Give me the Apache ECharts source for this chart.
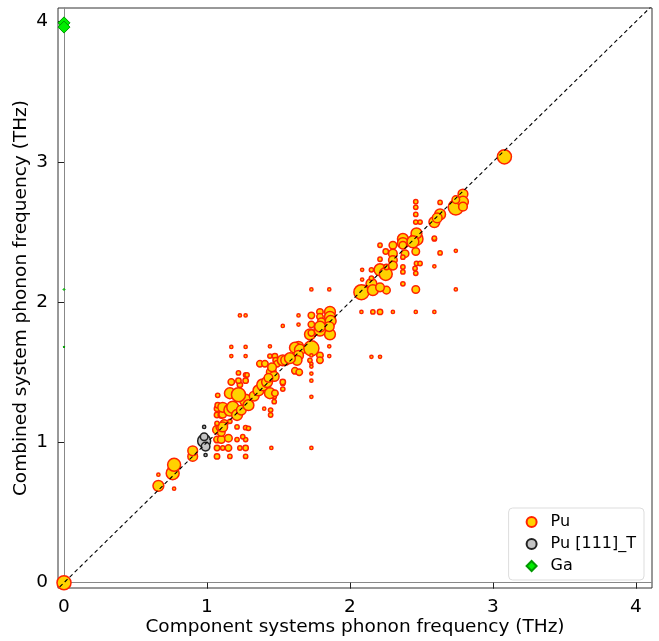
<!DOCTYPE html>
<html>
<head>
<meta charset="utf-8">
<script src="https://cdn.jsdelivr.net/npm/echarts@6/dist/echarts.min.js"></script>
<style>
  html, body { margin: 0; padding: 0; background: #fff; }
  #chart { width: 659px; height: 641px; }
</style>
</head>
<body>
<div id="chart"></div>
<script>
// tick values shared by both axes
var ticks = [0, 1, 2, 3, 4];
// dashed y = x reference
var diagLine = [-0.1, 4.3];

// Pu points: [component freq, combined freq, weight]
var puData = [
  [0, 0, 13],
  [0.66, 0.69, 10], [0.66, 0.77, 3], [0.77, 0.67, 3], [0.76, 0.78, 12], [0.77, 0.84, 12], [0.9, 0.9, 9], [0.9, 0.94, 9],
  [1.07, 0.96, 5], [1.07, 0.90, 5], [1.11, 0.96, 4], [1.15, 0.96, 6], [1.23, 0.96, 4], [1.27, 0.96, 5], [1.45, 0.96, 3], [1.73, 0.96, 3],
  [1.16, 0.90, 4], [1.27, 0.90, 4],
  [1.07, 1.02, 6], [1.10, 1.02, 7], [1.15, 1.03, 7], [1.21, 1.02, 4], [1.27, 1.02, 4], [1.25, 1.04, 4],
  [1.07, 1.09, 8], [1.10, 1.07, 7], [1.09, 1.11, 7], [1.12, 1.135, 7], [1.11, 1.11, 9], [1.21, 1.11, 4], [1.27, 1.105, 4], [1.29, 1.10, 4], [1.16, 1.15, 4], [1.07, 1.135, 4],
  [1.07, 1.195, 5], [1.10, 1.195, 6], [1.11, 1.2, 7], [1.07, 1.24, 5], [1.075, 1.265, 5], [1.075, 1.335, 4],
  [1.11, 1.25, 9], [1.16, 1.23, 11], [1.18, 1.25, 11], [1.21, 1.195, 10], [1.24, 1.23, 9], [1.27, 1.30, 11], [1.29, 1.265, 10], [1.16, 1.35, 10], [1.22, 1.34, 13],
  [1.17, 1.43, 6], [1.23, 1.41, 5], [1.22, 1.44, 5], [1.22, 1.495, 4], [1.27, 1.48, 4], [1.28, 1.48, 4], [1.27, 1.44, 5],
  [1.17, 1.68, 3], [1.27, 1.68, 3], [1.17, 1.615, 3], [1.27, 1.615, 3], [1.23, 1.905, 3], [1.27, 1.905, 3],
  [1.44, 1.685, 3], [1.44, 1.615, 4], [1.475, 1.615, 5], [1.48, 1.585, 5], [1.49, 1.56, 6], [1.53, 1.585, 10], [1.37, 1.56, 6], [1.405, 1.56, 6],
  [1.40, 1.24, 3], [1.445, 1.23, 4], [1.445, 1.195, 4], [1.47, 1.325, 4], [1.47, 1.29, 4],
  [1.33, 1.33, 9], [1.36, 1.37, 10], [1.39, 1.41, 11], [1.42, 1.43, 10], [1.44, 1.35, 10], [1.475, 1.35, 6], [1.45, 1.50, 9], [1.47, 1.47, 9], [1.43, 1.46, 8], [1.455, 1.535, 8],
  [1.53, 1.42, 4], [1.53, 1.38, 4], [1.53, 1.43, 5], [1.53, 1.83, 3],
  [1.64, 1.685, 9], [1.615, 1.675, 10], [1.65, 1.66, 10], [1.64, 1.62, 9], [1.63, 1.585, 9], [1.615, 1.51, 6], [1.645, 1.50, 6], [1.55, 1.585, 9], [1.58, 1.6, 10],
  [1.73, 1.67, 14], [1.73, 1.62, 3], [1.73, 1.56, 3], [1.72, 1.585, 4], [1.73, 1.54, 3], [1.73, 1.49, 3], [1.73, 1.44, 3], [1.73, 1.325, 3],
  [1.79, 1.62, 6], [1.79, 1.585, 6], [1.72, 1.77, 10], [1.79, 1.80, 11], [1.86, 1.77, 10], [1.855, 1.685, 3], [1.855, 1.615, 3],
  [1.86, 1.93, 10], [1.86, 1.895, 10], [1.865, 1.865, 10], [1.855, 1.825, 9], [1.79, 1.93, 6], [1.79, 1.895, 6], [1.80, 1.86, 7], [1.79, 1.825, 10], [1.73, 1.905, 6], [1.73, 1.84, 6], [1.73, 1.78, 6],
  [1.64, 1.905, 3], [1.64, 1.84, 3], [1.73, 2.09, 3], [1.855, 2.09, 3],
  [2.08, 2.07, 14], [2.15, 2.13, 10], [2.16, 2.085, 10], [2.21, 2.23, 11], [2.25, 2.20, 12], [2.255, 2.085, 7], [2.21, 2.105, 8],
  [2.085, 2.16, 3], [2.085, 2.23, 3], [2.15, 2.17, 4], [2.15, 2.23, 4], [2.21, 2.305, 4], [2.21, 2.405, 4], [2.255, 2.25, 5], [2.25, 2.36, 5],
  [2.30, 2.405, 7], [2.30, 2.345, 8], [2.30, 2.30, 8], [2.30, 2.26, 8], [2.37, 2.45, 10], [2.37, 2.42, 10], [2.465, 2.45, 12], [2.465, 2.49, 10], [2.44, 2.43, 11],
  [2.37, 2.405, 7], [2.385, 2.345, 7], [2.37, 2.32, 4], [2.37, 2.25, 4], [2.37, 2.215, 4], [2.37, 2.13, 4], [2.46, 2.36, 7], [2.465, 2.275, 4], [2.49, 2.275, 4], [2.455, 2.24, 4], [2.46, 2.205, 4], [2.46, 2.09, 7],
  [2.46, 2.715, 4], [2.46, 2.675, 4], [2.46, 2.625, 4], [2.46, 2.57, 4], [2.49, 2.57, 4], [2.59, 2.45, 4], [2.63, 2.35, 4], [2.74, 2.365, 3], [2.59, 2.255, 3], [2.74, 2.09, 3],
  [2.08, 1.93, 3], [2.16, 1.93, 4], [2.21, 1.93, 5], [2.30, 1.93, 3], [2.46, 1.93, 3], [2.59, 1.93, 3], [2.15, 1.61, 3], [2.21, 1.61, 3],
  [2.59, 2.57, 10], [2.63, 2.625, 10], [2.61, 2.6, 9], [2.63, 2.71, 4], [2.59, 2.455, 4], [2.74, 2.675, 14], [2.79, 2.77, 9], [2.79, 2.715, 10], [2.79, 2.68, 8], [2.74, 2.73, 7],
  [3.08, 3.035, 13]
];

// Pu [111]_T points
var puTData = [
  [0.98, 1.01, 12], [0.99, 0.97, 8], [0.98, 1.04, 7], [0.98, 1.11, 3], [0.99, 0.91, 3]
];

// Ga points
var gaData = [
  [0, 3.99, 12], [0, 3.96, 12], [0, 2.09, 2], [0, 1.68, 2]
];

var chart = echarts.init(document.getElementById('chart'));

var axisCommon = {
  type: 'value',
  splitLine: { show: false },
  axisLine: { show: true, lineStyle: { color: '#888', width: 1 } },
  axisTick: { show: true, customValues: ticks, length: 6, lineStyle: { color: '#222' } },
  axisLabel: { customValues: ticks, color: '#000', fontSize: 18.5, fontFamily: 'DejaVu Sans', margin: 10 },
  nameLocation: 'middle',
  nameMoveOverlap: false,
  nameTextStyle: { color: '#000', fontSize: 18.5, fontFamily: 'DejaVu Sans' }
};

chart.setOption({
  animation: false,
  backgroundColor: '#fff',
  grid: {
    left: 58, right: 7, top: 8, bottom: 53,
    outerBoundsMode: 'none',
    containLabel: false,
    show: true, borderColor: '#333', borderWidth: 1
  },
  xAxis: Object.assign({}, axisCommon, {
    min: -0.042, max: 4.112,
    name: 'Component systems phonon frequency (THz)',
    nameGap: 30
  }),
  yAxis: Object.assign({}, axisCommon, {
    min: -0.038, max: 4.096,
    name: 'Combined system phonon frequency (THz)',
    nameGap: 27
  }),
  legend: {
    orient: 'vertical',
    right: 15, bottom: 61,
    data: ['Pu', 'Pu [111]_T', 'Ga'],
    itemWidth: 10, itemHeight: 10, itemGap: 6,
    padding: [6, 8, 6, 17],
    borderColor: '#ddd', borderWidth: 1, borderRadius: 4,
    backgroundColor: '#fff',
    textStyle: { fontSize: 16, color: '#000', fontFamily: 'DejaVu Sans', padding: [0, 0, 0, 9] }
  },
  series: [
    {
      name: 'Pu', type: 'scatter', symbol: 'circle',
      symbolSize: function (v) { return v[2] * 1.08; },
      itemStyle: { color: '#ffd200', borderColor: '#ff2200', borderWidth: 1.5, opacity: 1 },
      data: puData, z: 2
    },
    {
      name: 'Pu [111]_T', type: 'scatter', symbol: 'circle',
      symbolSize: function (v) { return v[2] * 1.08; },
      itemStyle: { color: '#c4c4c4', borderColor: '#222', borderWidth: 1.5, opacity: 1 },
      data: puTData, z: 3
    },
    {
      name: 'Ga', type: 'scatter', symbol: 'diamond',
      symbolSize: function (v) { return v[2]; },
      itemStyle: { color: '#00ee00', borderColor: '#009900', borderWidth: 1, opacity: 1 },
      data: gaData, z: 4
    },
    {
      name: 'diag', type: 'line', symbol: 'none', silent: true,
      data: [[diagLine[0], diagLine[0]], [diagLine[1], diagLine[1]]],
      lineStyle: { color: '#000', width: 1.1, type: [4, 3] },
      z: 5
    }
  ]
});
</script>
</body>
</html>
